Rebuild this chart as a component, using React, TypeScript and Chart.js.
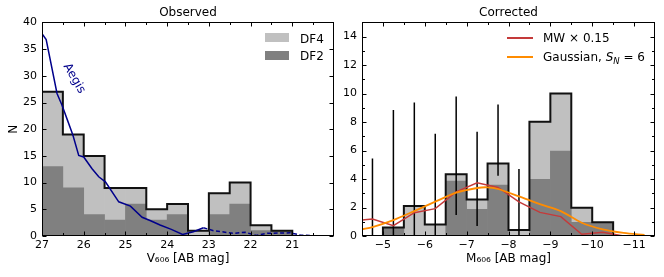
import React, { useEffect, useRef } from 'react';
import { Chart, registerables } from 'chart.js';

Chart.register(...registerables);

const FONT = "'DejaVu Sans', sans-serif";

// ---------- Observed panel data ----------
const obsBinEdges = [27, 26.5, 26, 25.5, 25, 24.5, 24, 23.5, 23, 22.5, 22, 21.5, 21];
const obsDF2 = [13, 9, 4, 3, 6, 3, 4, 0, 4, 6, 1, 1];
const obsDF4 = [14, 10, 11, 6, 3, 2, 2, 1, 4, 4, 1, 0];
const aegisSolidMag = [27.0, 26.9, 26.64, 26.52, 26.39, 26.26, 26.12, 26.0, 25.8, 25.64, 25.48, 25.16, 24.88, 24.6, 24.41, 24.17, 23.9, 23.63, 23.37, 23.13];
const aegisSolidN = [37.9, 36.8, 26.7, 24.5, 21.7, 18.9, 15.1, 14.8, 12.6, 11.1, 10.15, 6.4, 5.6, 3.5, 2.9, 2.05, 1.25, 0.3, 0.8, 1.55];
const aegisDashedMag = [23.13, 22.89, 22.41, 22.13, 21.86, 21.6, 21.05, 20.81, 20.5, 20.0];
const aegisDashedN = [1.55, 1.0, 0.5, 0.7, 0.1, 0.5, 0.6, 0.2, 0.05, 0.0];
const aegisLabelAt = { x: 26.23, y: 29.5 };
const obsXTicks = [27, 26, 25, 24, 23, 22, 21];
const obsXMinor = [26.5, 25.5, 24.5, 23.5, 22.5, 21.5, 20.5];
const obsYTicks = [0, 5, 10, 15, 20, 25, 30, 35, 40];
const obsYMinor: number[] = [];

// ---------- Corrected panel data ----------
const corrBinEdges = [-5, -5.5, -6, -6.5, -7, -7.5, -8, -8.5, -9, -9.5, -10, -10.5];
const corrDF2 = [0.6, 0, 0, 3.86, 1.87, 3.58, 0, 3.98, 5.96, 0.96, 0.96];
const corrDF4 = [0, 2.1, 0.8, 0.47, 0.7, 1.52, 0.42, 4.04, 4.04, 1.03, 0];
const errMag = [-4.5, -4.75, -5.25, -5.75, -6.25, -6.75, -7.25, -7.75, -8.25];
const errLow = [0, 0, 0, 0, 0, 1.47, 0.7, 4.23, 0];
const errHigh = [12.7, 5.45, 8.84, 9.38, 7.18, 9.8, 7.32, 9.24, 4.7];
const mwMag = [-4.25, -4.75, -5.25, -5.75, -6.25, -6.75, -7.25, -7.75, -8.25, -8.75, -9.25, -9.75, -10.25, -10.75];
const mwN = [1.05, 1.19, 0.72, 1.64, 1.92, 3.1, 3.74, 3.41, 2.4, 1.66, 1.36, 0.12, 0.26, 0.0];
const gaussMag = [-4.5, -4.75, -5.25, -5.75, -6.25, -6.75, -7.25, -7.5, -7.75, -8.25, -8.75, -9.25, -9.75, -10.25, -10.75, -11.25];
const gaussN = [0.47, 0.63, 1.12, 1.75, 2.41, 3.04, 3.37, 3.42, 3.3, 2.78, 2.24, 1.75, 0.93, 0.47, 0.22, 0.07];
const corrXTicks = [-5, -6, -7, -8, -9, -10, -11];
const corrXMinor = [-5.5, -6.5, -7.5, -8.5, -9.5, -10.5];
const corrYTicks = [0, 2, 4, 6, 8, 10, 12, 14];
const corrYMinor = [1, 3, 5, 7, 9, 11, 13];

const LIGHT = '#c0c0c0';
const DARK = '#808080';
const AEGIS = '#00008b';
const MW = '#c43a3a';
const GAUSS = '#ff8c00';

const pts = (xs: number[], ys: number[]) => xs.map((x, i) => ({ x, y: ys[i] }));
const centers = (edges: number[]) => edges.slice(0, -1).map((e, i) => (e + edges[i + 1]) / 2);
function outline(edges: number[], a: number[], b: number[]) {
  const p = [{ x: edges[0], y: 0 }];
  a.forEach((v, i) => p.push({ x: edges[i], y: v + b[i] }));
  p.push({ x: edges[edges.length - 1], y: 0 });
  return p;
}
const fmt = (v: number) => (v < 0 ? '\u2212' + Math.abs(v) : String(v));

function frameTicks(xMaj: number[], xMin: number[], yMaj: number[], yMin: number[]) {
  return {
    id: 'frameTicks',
    afterDraw(chart: any) {
      const { ctx, chartArea: a, scales } = chart;
      const L = Math.round(a.left) + 0.5, R = Math.round(a.right) - 0.5;
      const T = Math.round(a.top) + 0.5, B = Math.round(a.bottom) - 0.5;
      ctx.save();
      ctx.strokeStyle = '#000';
      ctx.lineWidth = 1;
      ctx.beginPath();
      const xt = (vals: number[], len: number) => vals.forEach((v) => {
        const px = Math.round(scales.x.getPixelForValue(v)) + 0.5;
        ctx.moveTo(px, B); ctx.lineTo(px, B - len);
        ctx.moveTo(px, T); ctx.lineTo(px, T + len);
      });
      const yt = (vals: number[], len: number) => vals.forEach((v) => {
        const py = Math.round(scales.y.getPixelForValue(v)) + 0.5;
        ctx.moveTo(L, py); ctx.lineTo(L + len, py);
        ctx.moveTo(R, py); ctx.lineTo(R - len, py);
      });
      xt(xMaj, 4); xt(xMin, 2.5); yt(yMaj, 4); yt(yMin, 2.5);
      ctx.stroke();
      ctx.strokeRect(L, T, R - L, B - T);
      ctx.restore();
    },
  };
}

function baseOptions(xMin: number, xMax: number, yMax: number, xTicks: number[], yTicks: number[], title: string, xTitle: string, yTitle: string | null, yWidth: number, padRight: number) {
  return {
    responsive: false,
    animation: false,
    events: [],
    layout: { padding: { left: 0, right: padRight, top: 0, bottom: 0 } },
    plugins: {
      legend: { display: false },
      tooltip: { enabled: false },
      title: {
        display: true, text: title, fullSize: false, color: '#000',
        font: { family: FONT, size: 12, weight: 'normal' }, padding: { top: 6, bottom: 2 },
      },
    },
    scales: {
      x: {
        type: 'linear', min: xMin, max: xMax, reverse: true, offset: false,
        grid: { display: false, drawTicks: false }, border: { display: false },
        afterBuildTicks: (s: any) => { s.ticks = xTicks.map((v) => ({ value: v })); },
        afterFit: (s: any) => { s.height = 41; },
        ticks: { autoSkip: false, maxRotation: 0, padding: 3, color: '#000', font: { family: FONT, size: 11 }, callback: (v: any) => fmt(Number(v)) },
        title: { display: true, text: xTitle, color: '#000', font: { family: FONT, size: 12 }, padding: { top: 0, bottom: 11 } },
      },
      y: {
        type: 'linear', min: 0, max: yMax,
        grid: { display: false, drawTicks: false }, border: { display: false },
        afterBuildTicks: (s: any) => { s.ticks = yTicks.map((v) => ({ value: v })); },
        afterFit: (s: any) => { s.width = yWidth; },
        ticks: { autoSkip: false, padding: 5, color: '#000', font: { family: FONT, size: 11 }, callback: (v: any) => fmt(Number(v)) },
        title: { display: !!yTitle, text: yTitle || '', color: '#000', font: { family: FONT, size: 12 }, padding: { top: 7, bottom: 0 } },
      },
    },
  };
}

export default function App() {
  const leftRef = useRef<HTMLCanvasElement>(null);
  const rightRef = useRef<HTMLCanvasElement>(null);

  useEffect(() => {
    Chart.defaults.font.family = FONT;
    Chart.defaults.color = '#000';
    const obsC = centers(obsBinEdges);
    const corrC = centers(corrBinEdges);

    const aegisLabel = {
      id: 'aegisLabel',
      afterDatasetsDraw(chart: any) {
        const { ctx, scales } = chart;
        const x = scales.x.getPixelForValue(aegisLabelAt.x);
        const y = scales.y.getPixelForValue(aegisLabelAt.y);
        ctx.save();
        ctx.translate(x, y);
        ctx.rotate((60 * Math.PI) / 180);
        ctx.fillStyle = AEGIS;
        ctx.font = `12px ${FONT}`;
        ctx.textAlign = 'center';
        ctx.textBaseline = 'middle';
        ctx.fillText('Aegis', 0, 0);
        ctx.restore();
      },
    };

    const left = new Chart(leftRef.current as HTMLCanvasElement, {
      type: 'bar',
      data: {
        datasets: [
          { type: 'line', label: 'Aegis', data: pts(aegisSolidMag, aegisSolidN), borderColor: AEGIS, borderWidth: 1.5, pointRadius: 0, fill: false, order: 1 },
          { type: 'line', label: 'Aegis (extrapolated)', data: pts(aegisDashedMag, aegisDashedN), borderColor: AEGIS, borderWidth: 1.5, borderDash: [4, 2.5], pointRadius: 0, fill: false, order: 1 },
          { type: 'line', label: 'Total', data: outline(obsBinEdges, obsDF2, obsDF4), borderColor: '#111', borderWidth: 2, stepped: true, pointRadius: 0, fill: false, order: 3 },
          { type: 'bar', label: 'DF2', data: pts(obsC, obsDF2), backgroundColor: DARK, borderWidth: 0, barPercentage: 1, categoryPercentage: 1, stack: 'hist', order: 10 },
          { type: 'bar', label: 'DF4', data: pts(obsC, obsDF4), backgroundColor: LIGHT, borderWidth: 0, barPercentage: 1, categoryPercentage: 1, stack: 'hist', order: 10 },
        ],
      } as any,
      options: baseOptions(20, 27, 40, obsXTicks, obsYTicks, 'Observed', 'V\u2086\u2080\u2086 [AB mag]', 'N', 42, 2) as any,
      plugins: [frameTicks(obsXTicks, obsXMinor, obsYTicks, obsYMinor), aegisLabel],
    });

    const errBars = {
      id: 'errBars',
      afterDatasetDraw(chart: any, args: any) {
        if (args.meta.label !== 'Total') return;
        const { ctx, scales, chartArea: a } = chart;
        ctx.save();
        ctx.beginPath();
        ctx.rect(a.left, a.top, a.right - a.left, a.bottom - a.top);
        ctx.clip();
        ctx.strokeStyle = '#000';
        ctx.lineWidth = 1.5;
        ctx.beginPath();
        errMag.forEach((m, i) => {
          const x = scales.x.getPixelForValue(m);
          ctx.moveTo(x, scales.y.getPixelForValue(errLow[i]));
          ctx.lineTo(x, scales.y.getPixelForValue(errHigh[i]));
        });
        ctx.stroke();
        ctx.restore();
      },
    };

    const right = new Chart(rightRef.current as HTMLCanvasElement, {
      type: 'bar',
      data: {
        datasets: [
          { type: 'line', label: 'Gaussian, S_N = 6', data: pts(gaussMag, gaussN), borderColor: GAUSS, borderWidth: 1.8, tension: 0.3, pointRadius: 0, fill: false, order: 1 },
          { type: 'line', label: 'MW \u00d7 0.15', data: pts(mwMag, mwN), borderColor: MW, borderWidth: 1.5, pointRadius: 0, fill: false, order: 2 },
          { type: 'line', label: 'Total', data: outline(corrBinEdges, corrDF2, corrDF4), borderColor: '#111', borderWidth: 2, stepped: true, pointRadius: 0, fill: false, order: 3 },
          { type: 'bar', label: 'DF2', data: pts(corrC, corrDF2), backgroundColor: DARK, borderWidth: 0, barPercentage: 1, categoryPercentage: 1, stack: 'hist', order: 10 },
          { type: 'bar', label: 'DF4', data: pts(corrC, corrDF4), backgroundColor: LIGHT, borderWidth: 0, barPercentage: 1, categoryPercentage: 1, stack: 'hist', order: 10 },
        ],
      } as any,
      options: baseOptions(-11.5, -4.5, 15, corrXTicks, corrYTicks, 'Corrected', 'M\u2086\u2080\u2086 [AB mag]', null, 26, 9) as any,
      plugins: [frameTicks(corrXTicks, corrXMinor, corrYTicks, corrYMinor), errBars],
    });

    return () => { left.destroy(); right.destroy(); };
  }, []);

  const txt: React.CSSProperties = { position: 'absolute', fontFamily: FONT, fontSize: 12, lineHeight: '14px', color: '#000', whiteSpace: 'nowrap' };

  return (
    <div style={{ position: 'absolute', left: 0, top: 0, width: 664, height: 277, background: '#fff', overflow: 'hidden' }}>
      <canvas ref={leftRef} width={336} height={277} style={{ position: 'absolute', left: 0, top: 0, display: 'block' }} />
      <canvas ref={rightRef} width={328} height={277} style={{ position: 'absolute', left: 336, top: 0, display: 'block' }} />
      {/* Observed legend */}
      <div style={{ position: 'absolute', left: 265, top: 33, width: 24, height: 9, background: LIGHT }} />
      <div style={{ ...txt, left: 300, top: 31.5 }}>DF4</div>
      <div style={{ position: 'absolute', left: 265, top: 51, width: 24, height: 9, background: DARK }} />
      <div style={{ ...txt, left: 300, top: 49 }}>DF2</div>
      {/* Corrected legend */}
      <div style={{ position: 'absolute', left: 507, top: 36.7, width: 26, height: 2, background: MW }} />
      <div style={{ ...txt, left: 543, top: 30.8 }}>MW {'\u00d7'} 0.15</div>
      <div style={{ position: 'absolute', left: 507, top: 55.7, width: 26, height: 2, background: GAUSS }} />
      <div style={{ ...txt, left: 543, top: 49.8 }}>
        Gaussian, <i>S</i><span style={{ fontSize: 8.5, fontStyle: 'italic', position: 'relative', top: 3 }}>N</span> = 6
      </div>
    </div>
  );
}
